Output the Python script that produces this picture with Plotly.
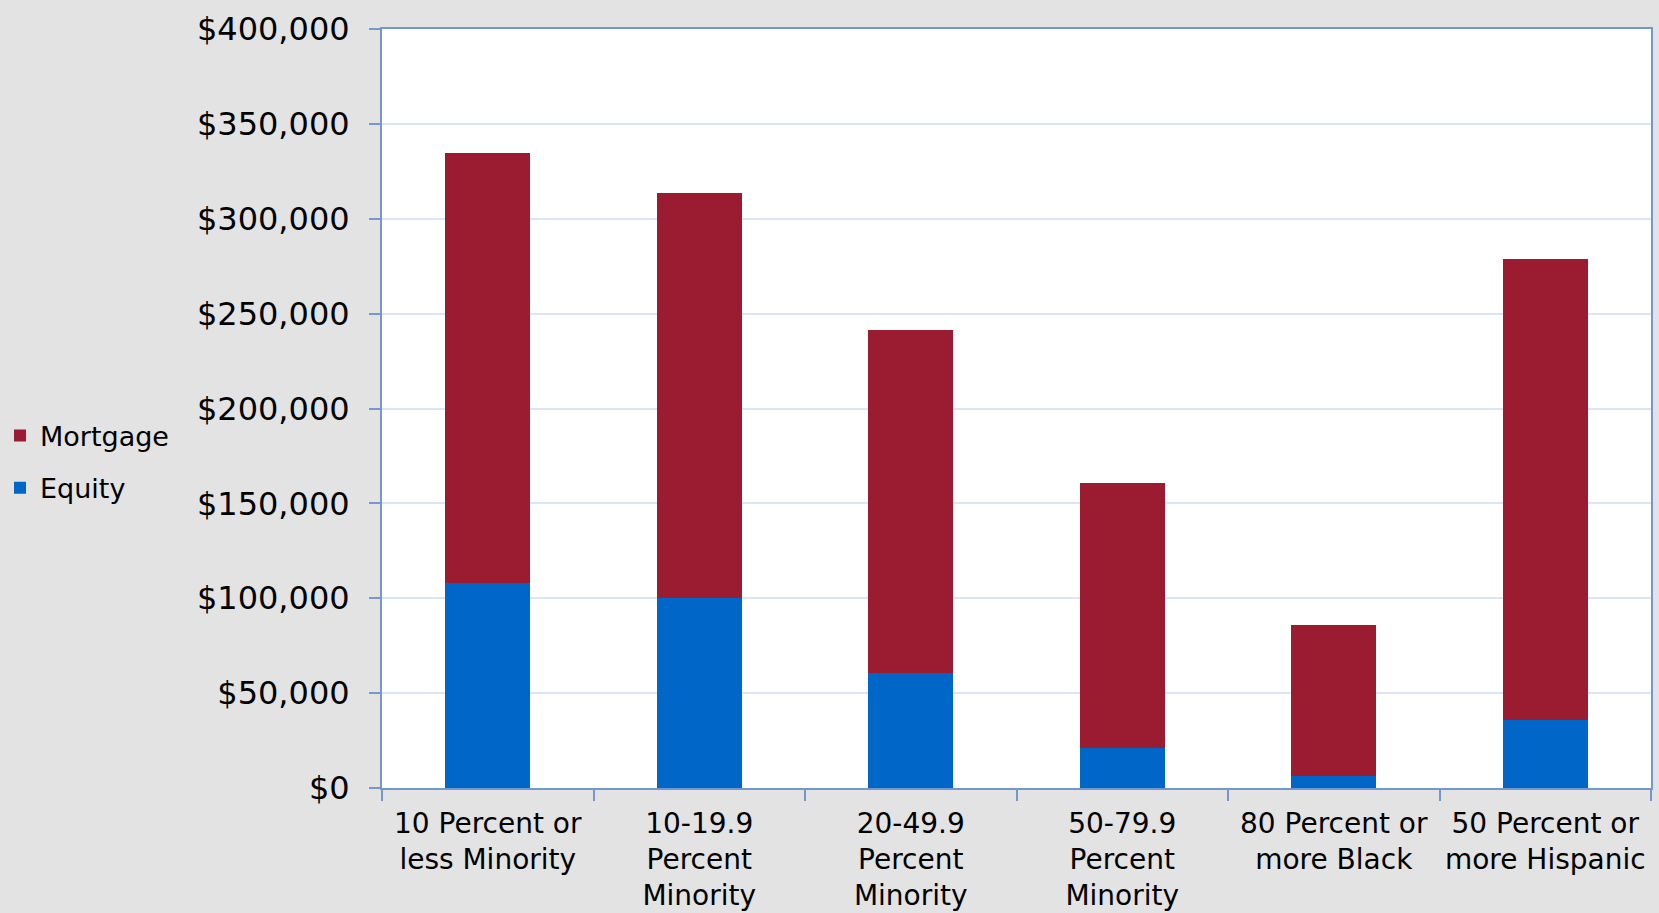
import plotly.graph_objects as go

categories = [
    "10 Percent or<br>less Minority",
    "10-19.9<br>Percent<br>Minority",
    "20-49.9<br>Percent<br>Minority",
    "50-79.9<br>Percent<br>Minority",
    "80 Percent or<br>more Black",
    "50 Percent or<br>more Hispanic",
]
equity = [108000, 100200, 60700, 21000, 6500, 35600]
mortgage = [226400, 213600, 180600, 139500, 79200, 243100]

fig = go.Figure()
fig.add_trace(go.Bar(name="Equity", x=categories, y=equity,
                     marker=dict(color="#0066C8", line=dict(width=0)),
                     legendgroup="e", legendrank=2))
fig.add_trace(go.Bar(name="Mortgage", x=categories, y=mortgage,
                     marker=dict(color="#9B1B31", line=dict(width=0)),
                     legendgroup="m", legendrank=1))

axis_col = "#7397CE"
fig.update_layout(
    barmode="stack",
    bargap=0.6,
    width=1659, height=913,
    paper_bgcolor="#E3E3E3",
    plot_bgcolor="#FFFFFF",
    margin=dict(l=382, r=8, t=29, b=125, autoexpand=False),
    font=dict(family="DejaVu Sans", color="#000000"),
    legend=dict(
        xref="container", yref="container",
        x=0.0, y=0.494, xanchor="left", yanchor="middle",
        traceorder="grouped", tracegroupgap=14,
        font=dict(size=27, family="DejaVu Sans"),
        bgcolor="rgba(0,0,0,0)",
        itemwidth=30,
    ),
    xaxis=dict(
        showline=True, linecolor=axis_col, linewidth=2, mirror=True,
        ticks="outside", ticklen=11, tickcolor=axis_col, tickwidth=2,
        tickson="boundaries",
        ticklabelstandoff=9,
        tickfont=dict(size=28, family="DejaVu Sans"),
        showgrid=False,
    ),
    yaxis=dict(
        range=[0, 400000], dtick=50000,
        tickprefix="$", tickformat=",",
        showline=True, linecolor=axis_col, linewidth=2, mirror=True,
        ticks="outside", ticklen=11, tickcolor=axis_col, tickwidth=2,
        ticklabelstandoff=13,
        gridcolor="#DCE6F2", gridwidth=1.5,
        tickfont=dict(size=32, family="DejaVu Sans"),
        zeroline=False,
    ),
)

fig.write_html("out.html")
